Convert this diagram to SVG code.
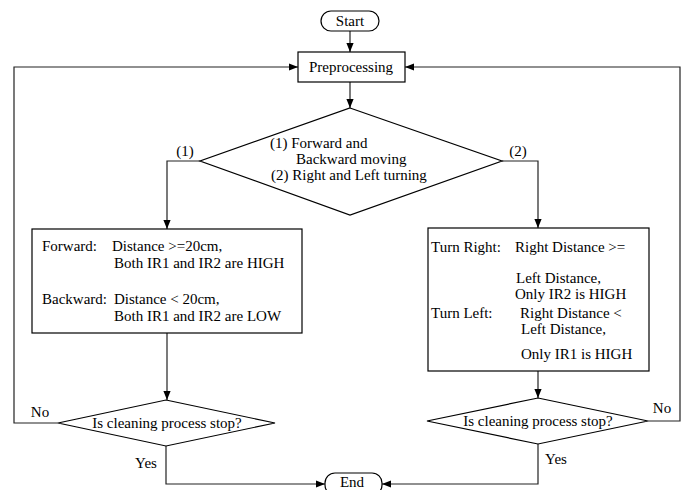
<svg xmlns="http://www.w3.org/2000/svg" width="685" height="490" viewBox="0 0 685 490">
<style>
text{font-family:"Liberation Serif","Times New Roman",serif;font-size:15px;fill:#000}
.s{fill:#fff;stroke:#000;stroke-width:1.2}
.c{fill:none;stroke:#222;stroke-width:1.2}
.m{text-anchor:middle}
</style>
<defs>
<marker id="a" viewBox="0 0 10 10" refX="10" refY="5" markerWidth="9" markerHeight="9" markerUnits="userSpaceOnUse" orient="auto">
<path d="M0,1 L10,5 L0,9 Z" fill="#000"/>
</marker>
</defs>
<rect width="685" height="490" fill="#fff"/>
<g id="connectors">
<path class="c" d="M350,31 V52" marker-end="url(#a)"/>
<path class="c" d="M350,82 V108" marker-end="url(#a)"/>
<path class="c" d="M200,161 H167 V229" marker-end="url(#a)"/>
<path class="c" d="M502,161 H538 V228" marker-end="url(#a)"/>
<path class="c" d="M167,333 V400" marker-end="url(#a)"/>
<path class="c" d="M538,371 V398" marker-end="url(#a)"/>
<path class="c" d="M58,423 H14 V67 H298" marker-end="url(#a)"/>
<path class="c" d="M648,421 H680 V67 H405" marker-end="url(#a)"/>
<path class="c" d="M166,446 V484 H325" marker-end="url(#a)"/>
<path class="c" d="M538,444 V484 H382" marker-end="url(#a)"/>
<text class="m" x="185" y="156">(1)</text>
<text class="m" x="518" y="156">(2)</text>
<text class="m" x="40" y="417">No</text>
<text class="m" x="146" y="468">Yes</text>
<text class="m" x="662" y="413">No</text>
<text class="m" x="556" y="464">Yes</text>
</g>
<g id="start">
<rect class="s" x="321" y="11" width="58" height="20" rx="10"/>
<text class="m" x="350" y="26">Start</text>
</g>
<g id="preprocessing">
<rect class="s" x="298" y="52" width="107" height="30"/>
<text class="m" x="351" y="72">Preprocessing</text>
</g>
<g id="decision-mode">
<polygon class="s" points="350,108 502,161 350,215 200,161"/>
<text x="270" y="148">(1) Forward and</text>
<text x="296" y="164">Backward moving</text>
<text x="271" y="180">(2) Right and Left turning</text>
</g>
<g id="forward-backward">
<rect class="s" x="32" y="229" width="270" height="104"/>
<text x="42" y="251">Forward:</text>
<text x="112" y="251">Distance &gt;=20cm,</text>
<text x="114" y="268">Both IR1 and IR2 are HIGH</text>
<text x="42" y="304">Backward:</text>
<text x="114" y="304">Distance &lt; 20cm,</text>
<text x="114" y="321">Both IR1 and IR2 are LOW</text>
</g>
<g id="turn-right-left">
<rect class="s" x="428" y="228" width="221" height="143"/>
<text x="431" y="252">Turn Right:</text>
<text x="515" y="252">Right Distance &gt;=</text>
<text x="516" y="283">Left Distance,</text>
<text x="515" y="299">Only IR2 is HIGH</text>
<text x="431" y="318">Turn Left:</text>
<text x="520" y="318">Right Distance &lt;</text>
<text x="521" y="334">Left Distance,</text>
<text x="521" y="359">Only IR1 is HIGH</text>
</g>
<g id="stop-left">
<polygon class="s" points="166,400 275,423 166,446 58,423"/>
<text class="m" x="167" y="428">Is cleaning process stop?</text>
</g>
<g id="stop-right">
<polygon class="s" points="538,398 648,421 538,444 427,421"/>
<text class="m" x="538" y="426">Is cleaning process stop?</text>
</g>
<g id="end">
<rect class="s" x="325" y="473" width="57" height="22" rx="10"/>
<text class="m" x="352" y="487">End</text>
</g>
</svg>
